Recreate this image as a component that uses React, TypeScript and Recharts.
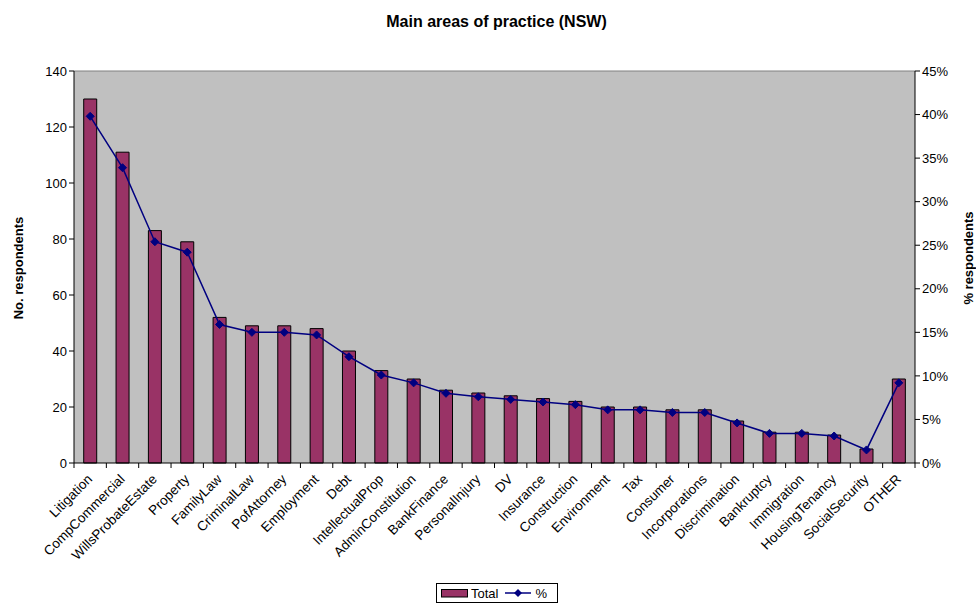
import React from 'react';
import {
  ComposedChart, Bar, Line, XAxis, YAxis, Legend, ReferenceLine, CartesianGrid, Label,
} from 'recharts';

const categories = [
  'Litigation', 'CompCommercial', 'WillsProbateEstate', 'Property', 'FamilyLaw', 'CriminalLaw',
  'PofAttorney', 'Employment', 'Debt', 'IntellectualProp', 'AdminConstitution', 'BankFinance',
  'PersonalInjury', 'DV', 'Insurance', 'Construction', 'Environment', 'Tax', 'Consumer',
  'Incorporations', 'Discrimination', 'Bankruptcy', 'Immigration', 'HousingTenancy',
  'SocialSecurity', 'OTHER',
];
const totals = [130, 111, 83, 79, 52, 49, 49, 48, 40, 33, 30, 26, 25, 24, 23, 22, 20, 20, 19, 19, 15, 11, 11, 10, 5, 30];
const percents = [39.8, 33.9, 25.4, 24.2, 15.9, 15.0, 15.0, 14.7, 12.2, 10.1, 9.2, 8.0, 7.6, 7.3, 7.0, 6.7, 6.1, 6.1, 5.8, 5.8, 4.6, 3.4, 3.4, 3.1, 1.5, 9.2];
const leftTicks = [0, 20, 40, 60, 80, 100, 120, 140];
const rightTicks = [0, 5, 10, 15, 20, 25, 30, 35, 40, 45];

const data = categories.map((c, i) => ({ name: c, total: totals[i], pct: percents[i] }));

const FONT = 'Liberation Sans, Arial, sans-serif';
const W = 976;
const H = 603;
const LEFT_W = 74;
const RIGHT_W = 61;
const BAND = (W - LEFT_W - RIGHT_W) / categories.length;

const XTick = (props: any) => {
  const { x, y, payload, index } = props;
  const left = x - BAND / 2;
  const ax = x + 3;
  const ay = y + 9;
  return (
    <g>
      <line x1={left} y1={y - 8} x2={left} y2={y - 3} stroke="#000" />
      {index === categories.length - 1 && (
        <line x1={x + BAND / 2} y1={y - 8} x2={x + BAND / 2} y2={y - 3} stroke="#000" />
      )}
      <text
        x={ax}
        y={ay}
        transform={`rotate(-45, ${ax}, ${ay})`}
        textAnchor="end"
        fontSize={13.5}
        fontFamily={FONT}
        fill="#000"
      >
        {payload.value}
      </text>
    </g>
  );
};

const Diamond = (props: any) => {
  const { cx, cy } = props;
  if (cx == null || cy == null) return null;
  const r = 4;
  return <path d={`M${cx},${cy - r}L${cx + r},${cy}L${cx},${cy + r}L${cx - r},${cy}Z`} fill="#000080" stroke="#000080" />;
};

const AxisTitle = (props: any) => {
  const { viewBox, value, side } = props;
  const cy = viewBox.y + viewBox.height / 2;
  const cx = side === 'left' ? 18 : 968;
  const yy = side === 'left' ? cy + 1 : cy - 9;
  return (
    <text
      x={cx}
      y={yy}
      transform={`rotate(-90, ${cx}, ${yy})`}
      textAnchor="middle"
      dominantBaseline="central"
      fontSize={13}
      fontWeight="bold"
      fontFamily={FONT}
      fill="#000"
    >
      {value}
    </text>
  );
};

const LegendContent = () => (
  <div
    style={{
      border: '1px solid #000',
      display: 'flex',
      alignItems: 'center',
      fontFamily: FONT,
      fontSize: 13,
      padding: '1px 4px',
      background: '#fff',
      width: 122,
      height: 20,
      boxSizing: 'border-box',
    }}
  >
    <svg width={27} height={9} style={{ marginRight: 3 }}>
      <rect x={0.5} y={0.5} width={26} height={7.5} fill="#993366" stroke="#000" />
    </svg>
    <span>Total</span>
    <svg width={26} height={10} style={{ marginLeft: 7, marginRight: 4 }}>
      <line x1={0} y1={5} x2={26} y2={5} stroke="#000080" strokeWidth={1.5} />
      <path d="M13,1L17,5L13,9L9,5Z" fill="#000080" />
    </svg>
    <span>%</span>
  </div>
);

export default function App() {
  return (
    <div style={{ position: 'absolute', left: 0, top: 0, width: W, height: H, background: '#fff', overflow: 'hidden' }}>
      <div
        style={{
          position: 'absolute',
          top: 13,
          left: LEFT_W + 2,
          width: W - LEFT_W - RIGHT_W,
          textAlign: 'center',
          fontFamily: FONT,
          fontSize: 16,
          fontWeight: 'bold',
        }}
      >
        Main areas of practice (NSW)
      </div>
      <ComposedChart
        width={W}
        height={H}
        data={data}
        margin={{ top: 71, right: 0, bottom: 0, left: 0 }}
        barCategoryGap="30%"
      >
        <CartesianGrid fill="#C0C0C0" horizontal={false} vertical={false} yAxisId="left" />
        <XAxis
          dataKey="name"
          height={140}
          tickLine={false}
          axisLine={{ stroke: '#000' }}
          interval={0}
          tick={<XTick />}
        />
        <YAxis
          yAxisId="left"
          orientation="left"
          width={LEFT_W}
          domain={[0, 140]}
          ticks={leftTicks}
          interval={0}
          axisLine={{ stroke: '#000' }}
          tickLine={{ stroke: '#000' }}
          tickSize={5}
          tick={{ fontSize: 13, fontFamily: FONT, fill: '#000' }}
        >
          <Label value="No. respondents" content={<AxisTitle side="left" value="No. respondents" />} />
        </YAxis>
        <YAxis
          yAxisId="right"
          orientation="right"
          width={RIGHT_W}
          domain={[0, 45]}
          ticks={rightTicks}
          interval={0}
          tickFormatter={(v: number) => `${v}%`}
          axisLine={{ stroke: '#000' }}
          tickLine={{ stroke: '#000' }}
          tickSize={5}
          tick={{ fontSize: 13, fontFamily: FONT, fill: '#000' }}
        >
          <Label value="% respondents" content={<AxisTitle side="right" value="% respondents" />} />
        </YAxis>
        <ReferenceLine yAxisId="left" y={140} stroke="#808080" />
        <Bar yAxisId="left" dataKey="total" name="Total" fill="#993366" stroke="#000" strokeWidth={1} isAnimationActive={false} />
        <Line
          yAxisId="right"
          dataKey="pct"
          name="%"
          stroke="#000080"
          strokeWidth={1.5}
          dot={<Diamond />}
          activeDot={false}
          isAnimationActive={false}
        />
        <Legend
          layout="horizontal"
          verticalAlign="middle"
          align="center"
          content={<LegendContent />}
          wrapperStyle={{ top: 583, left: 436, width: 122, height: 20 }}
        />
      </ComposedChart>
    </div>
  );
}
